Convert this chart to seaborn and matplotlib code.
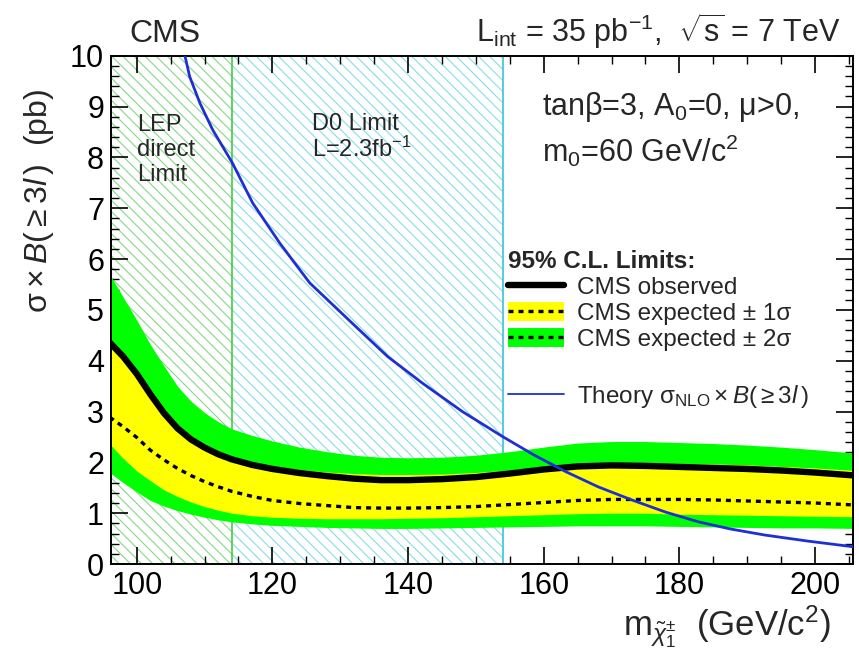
import numpy as np
import pandas as pd
import seaborn as sns
import matplotlib
matplotlib.use("Agg")
import matplotlib.pyplot as plt
from matplotlib.lines import Line2D
from matplotlib.patches import Patch
from matplotlib.legend_handler import HandlerTuple
from matplotlib.ticker import MultipleLocator

# ---------------- data ----------------
mass = [96, 98, 100, 102, 104, 106, 108, 110, 112, 114, 117, 120, 124, 128, 132,
        136, 140, 145, 150, 155, 160, 165, 170, 175, 180, 185, 190, 195, 200, 206]
observed = [4.36, 4.08, 3.74, 3.34, 2.97, 2.67, 2.45, 2.29, 2.16, 2.06, 1.95, 1.87,
            1.79, 1.73, 1.68, 1.65, 1.65, 1.67, 1.71, 1.78, 1.86, 1.92, 1.94, 1.93,
            1.91, 1.89, 1.87, 1.84, 1.80, 1.74]
expected = [2.89, 2.70, 2.49, 2.24, 2.05, 1.88, 1.74, 1.62, 1.52, 1.43, 1.33, 1.25,
            1.19, 1.15, 1.11, 1.10, 1.10, 1.11, 1.13, 1.17, 1.21, 1.25, 1.27, 1.27,
            1.27, 1.26, 1.24, 1.22, 1.20, 1.16]
plus1 = [4.30, 4.00, 3.68, 3.30, 2.95, 2.66, 2.46, 2.31, 2.19, 2.10, 2.00, 1.93,
         1.86, 1.81, 1.78, 1.76, 1.76, 1.77, 1.80, 1.85, 1.91, 1.96, 1.99, 1.99,
         1.98, 1.97, 1.95, 1.92, 1.89, 1.84]
minus1 = [2.36, 2.08, 1.83, 1.64, 1.46, 1.33, 1.22, 1.13, 1.06, 1.00, 0.95, 0.92,
          0.90, 0.89, 0.89, 0.89, 0.90, 0.91, 0.93, 0.95, 0.97, 0.99, 1.00, 1.00,
          0.98, 0.97, 0.96, 0.95, 0.94, 0.93]
plus2 = [5.70, 5.25, 4.80, 4.32, 3.90, 3.50, 3.20, 2.98, 2.80, 2.66, 2.53, 2.42,
         2.30, 2.21, 2.14, 2.10, 2.09, 2.10, 2.14, 2.21, 2.30, 2.38, 2.41, 2.41,
         2.39, 2.37, 2.34, 2.30, 2.25, 2.18]
minus2 = [1.80, 1.60, 1.42, 1.25, 1.14, 1.05, 0.98, 0.92, 0.87, 0.83, 0.79, 0.76,
          0.74, 0.72, 0.71, 0.70, 0.70, 0.71, 0.72, 0.73, 0.74, 0.75, 0.75, 0.75,
          0.74, 0.73, 0.72, 0.71, 0.71, 0.70]

theory_mass = [106.0, 107.1, 107.8, 109.3, 111.2, 114.1, 117.1, 121.1, 125.5, 132.3,
               137.0, 142.1, 148.0, 153.9, 158.5, 163.2, 168.0, 173.0, 178.0, 182.8,
               187.5, 192.6, 199.0, 205.6]
theory_xsec = [10.6, 10.0, 9.59, 9.07, 8.54, 7.89, 7.10, 6.31, 5.53, 4.67,
               4.08, 3.56, 3.00, 2.51, 2.15, 1.82, 1.52, 1.26, 1.02, 0.83,
               0.69, 0.57, 0.45, 0.34]

lep_limit = [96.2, 114.0]
d0_limit = [114.0, 154.0]
x_range = [96.2, 205.6]
y_range = [0, 10]

# ---------------- style ----------------
sns.set_style("white")
plt.rcParams["font.family"] = ["Liberation Sans", "DejaVu Sans"]
plt.rcParams["mathtext.fontset"] = "custom"
plt.rcParams["mathtext.rm"] = "Liberation Sans"
plt.rcParams["mathtext.it"] = "Liberation Sans:italic"
plt.rcParams["mathtext.bf"] = "Liberation Sans:bold"
plt.rcParams["hatch.linewidth"] = 0.8

fig = plt.figure(figsize=(8.59, 6.67), dpi=100)
ax = fig.add_axes([0.1292, 0.1544, 0.8638, 0.7621])

# hatched excluded regions
ax.axvspan(lep_limit[0], lep_limit[1], facecolor="none", edgecolor="#86d886",
           hatch="\\\\\\", linewidth=0, zorder=0)
ax.axvspan(d0_limit[0], d0_limit[1], facecolor="none", edgecolor="#86dde8",
           hatch="\\\\\\", linewidth=0, zorder=0)
ax.axvline(lep_limit[1], color="#44cc44", lw=1.2, zorder=0.5)
ax.axvline(d0_limit[1], color="#55ccdd", lw=1.4, zorder=0.5)

# bands
ax.fill_between(mass, minus2, plus2, color="#00ff00", lw=0, zorder=1)
ax.fill_between(mass, minus1, plus1, color="#ffff00", lw=0, zorder=2)

df = pd.DataFrame({"mass": mass, "observed": observed, "expected": expected})
th = pd.DataFrame({"mass": theory_mass, "xsec": theory_xsec})

sns.lineplot(data=df, x="mass", y="expected", ax=ax, color="black", lw=2.4,
             linestyle=(0, (1.5, 1.5)), zorder=3)
sns.lineplot(data=df, x="mass", y="observed", ax=ax, color="black", lw=4.6,
             zorder=4)
sns.lineplot(data=th, x="mass", y="xsec", ax=ax, color="#1f2fd6", lw=2.0,
             zorder=5)

ax.set_xlim(*x_range)
ax.set_ylim(*y_range)

# ticks (ROOT style)
ax.xaxis.set_major_locator(MultipleLocator(20))
ax.xaxis.set_minor_locator(MultipleLocator(5))
ax.yaxis.set_major_locator(MultipleLocator(1))
ax.yaxis.set_minor_locator(MultipleLocator(0.2))
ax.tick_params(which="both", direction="in", top=True, right=True,
               bottom=True, left=True, colors="black")
ax.tick_params(which="major", length=12, width=1.2, labelsize=22, pad=5)
ax.tick_params(which="minor", length=6, width=1.0)
for s in ax.spines.values():
    s.set_color("black")
    s.set_linewidth(1.4)

# axis titles
ax.set_ylabel(r"$\mathrm{\sigma} \times \mathit{B}(\geq 3\mathit{l}\,)$  (pb)",
              fontsize=23, loc="top")
ax.yaxis.set_label_coords(-0.074, 0.935)
ax.set_xlabel("")
ax.text(0.97, -0.140, r"m$_{\tilde{\chi}^{\pm}_{1}}$  (GeV/c$^{2}$)",
        transform=ax.transAxes, ha="right", va="baseline", fontsize=25)

# header texts
fig.text(0.151, 0.937, "CMS", fontsize=23, ha="left", va="baseline")
fig.text(0.978, 0.937,
         r"L$_{\mathrm{int}}$ = 35 pb$^{\mathrm{-1}}$,  $\sqrt{\mathrm{s}}$ = 7 TeV",
         fontsize=22, ha="right", va="baseline")

# in-plot annotations
ax.text(100.0, 8.51, "LEP", fontsize=17, va="baseline", ha="left")
ax.text(100.0, 8.03, "direct", fontsize=17, va="baseline", ha="left")
ax.text(100.0, 7.53, "Limit", fontsize=17, va="baseline", ha="left")
ax.text(125.9, 8.53, "D0 Limit", fontsize=17, va="baseline", ha="left")
ax.text(125.9, 8.00, r"L=2.3fb$^{\mathrm{-1}}$", fontsize=17, va="baseline", ha="left")
ax.text(159.7, 8.84, r"tan$\mathrm{\beta}$=3, A$_{\mathrm{0}}$=0, $\mathrm{\mu}$>0,",
        fontsize=22, va="baseline", ha="left")
ax.text(159.7, 7.91, r"m$_{\mathrm{0}}$=60 GeV/c$^{\mathrm{2}}$",
        fontsize=22, va="baseline", ha="left")

# legend
dash = dict(color="black", lw=2.4, linestyle=(0, (1.5, 1.5)))
h_obs = Line2D([], [], color="black", lw=4.6)
h_e1 = (Patch(facecolor="#ffff00", edgecolor="none"), Line2D([], [], **dash))
h_e2 = (Patch(facecolor="#00ff00", edgecolor="none"), Line2D([], [], **dash))
h_th = Line2D([], [], color="#1f2fd6", lw=1.3)
common = dict(handler_map={tuple: HandlerTuple(ndivide=1)}, loc="upper left",
              frameon=False, fontsize=17.5, handlelength=2.3, handleheight=0.85,
              handletextpad=0.55, borderpad=0, borderaxespad=0)
leg1 = ax.legend([h_obs, h_e1, h_e2],
                 ["CMS observed", "CMS expected ± 1σ", "CMS expected ± 2σ"],
                 bbox_to_anchor=(0.535, 0.618), title="95% C.L. Limits:",
                 title_fontproperties={"weight": "bold", "size": 17.5},
                 alignment="left", labelspacing=0.12, **common)
ax.add_artist(leg1)
ax.legend([h_th],
          [r"Theory $\mathrm{\sigma}_{\mathrm{NLO}} \times \mathit{B}(\geq 3\mathit{l}\,)$"],
          bbox_to_anchor=(0.535, 0.356), **common)

fig.savefig("out.png", dpi=100)
